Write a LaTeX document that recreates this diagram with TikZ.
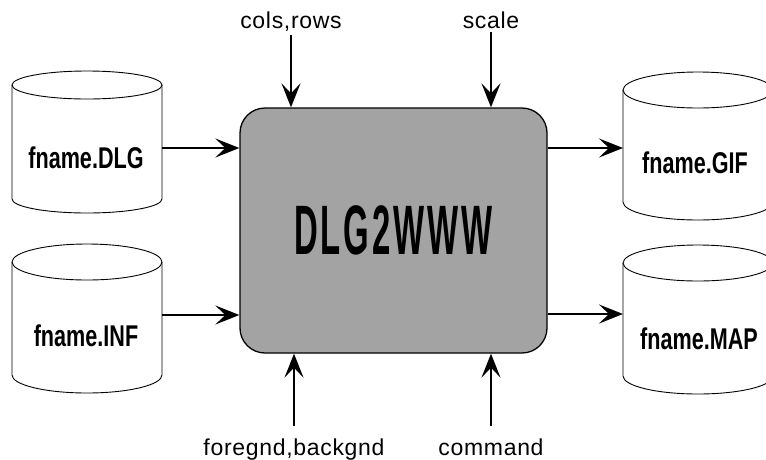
\documentclass[tikz,border=0pt]{standalone}
\usepackage{fontspec}
\setmainfont{Liberation Sans}
\usetikzlibrary{arrows.meta}

% squeeze text horizontally (condensed look)
\newcommand\narrowtext[2]{\scalebox{#1}[1]{#2}}

% disk store: name, centre x, top-ellipse y, bottom-ellipse y, y radius
\newcommand\diskstore[5]{%
  \node[drumbody, minimum height={#4-#3}] (#1) at (#2,{(#3+#4)/2}) {};
  \draw[drumline] (#1.north west) -- (#1.south west)
    arc[start angle=180, end angle=0, x radius=75, y radius=#5] -- (#1.north east);
  \draw[drumline] (#1.north) ellipse[x radius=75, y radius=#5];
}

\begin{document}
\begin{tikzpicture}[x=1pt, y=-1pt,
  drumbody/.style={rectangle, draw=none, inner sep=0pt, outer sep=0pt, minimum width=150pt},
  drumline/.style={draw=black, line width=0.9pt},
  drumtext/.style={font=\fontsize{30}{30}\selectfont\bfseries, inner sep=0pt},
  corebox/.style={draw=black, line width=1.3pt, fill=black!36, rounded corners=25pt,
                  minimum width=307pt, minimum height=245pt, inner sep=0pt,
                  font=\fontsize{70}{70}\selectfont\bfseries\addfontfeature{LetterSpace=9}},
  tag/.style={font=\fontsize{23}{23}\selectfont\addfontfeature{LetterSpace=3}, inner sep=3.5pt, anchor=base},
  flow/.style={line width=2.4pt, -{Stealth[length=24pt, width=19pt, inset=10pt]}}
]
\useasboundingbox (0,0) rectangle (766,459);
\fill[white] (0,0) rectangle (766,459);

% central processor
\node[corebox] (core) at (393.5,230.5) {\narrowtext{0.47}{DLG2WWW}};

% input and output files
\diskstore{dlg}{87}{85}{199}{14}
\diskstore{inf}{87}{262}{375}{18}
\diskstore{gif}{698}{90}{202}{18}
\diskstore{map}{698}{263}{376}{18}

\node[drumtext] (dlgt) at (86,158) {\narrowtext{0.72}{fname.DLG}};
\node[drumtext] (inft) at (86,336) {\narrowtext{0.72}{fname.INF}};
\node[drumtext] (gift) at (695,163) {\narrowtext{0.72}{fname.GIF}};
\node[drumtext] (mapt) at (699,339) {\narrowtext{0.72}{fname.MAP}};

% file connectors
\coordinate (a1) at ([yshift=-6pt]dlg.east);
\coordinate (a2) at ([yshift=3.5pt]inf.east);
\coordinate (b1) at ([yshift=-2pt]gif.west);
\coordinate (b2) at ([yshift=5.5pt]map.west);
\draw[flow] (a1) -- (a1 -| core.west);
\draw[flow] (a2) -- (a2 -| core.west);
\draw[flow] (b1 -| core.east) -- (b1);
\draw[flow] (b2 -| core.east) -- (b2);

% parameters
\node[tag] (cr) at (291,28) {cols,rows};
\node[tag] (sc) at (491,28) {scale};
\node[tag, outer ysep=9pt] (fb) at (294,455) {foregnd,backgnd};
\node[tag, outer ysep=9pt] (cm) at (491,455) {command};

\draw[flow] (cr.south) -- (cr.south |- core.north);
\draw[flow] (sc.south) -- (sc.south |- core.north);
\draw[flow] (fb.north) -- (fb.north |- core.south);
\draw[flow] (cm.north) -- (cm.north |- core.south);
\end{tikzpicture}
\end{document}
